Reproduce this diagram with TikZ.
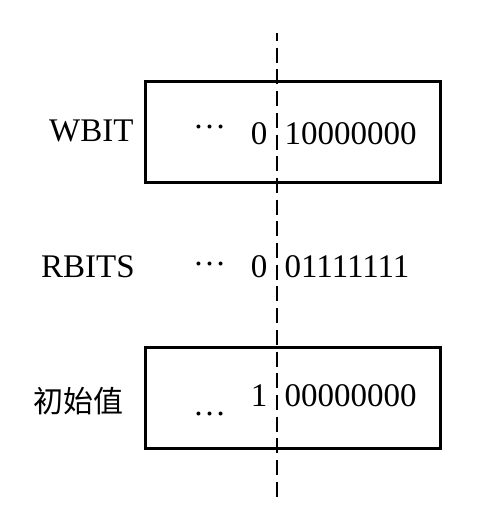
\documentclass[tikz,border=0pt]{standalone}
\usepackage{fontspec}
\setmainfont{Liberation Serif}
\newfontfamily\cjk{Noto Sans CJK SC}
\begin{document}
\begin{tikzpicture}[x=1pt,y=-1pt,
  lbl/.style={inner sep=0pt,font=\fontsize{33}{39}\selectfont},
  cjklbl/.style={inner sep=0pt,font=\cjk\fontsize{30}{36}\selectfont},
  regbox/.style={draw=black,line width=3.2pt},
  divider/.style={draw=black,line width=2pt,dash pattern=on 15pt off 6.7pt,dash phase=7pt}]
\useasboundingbox[fill=white] (0,0) rectangle (478,515);
% boxes
\node[regbox,minimum width=295pt,minimum height=101pt,inner sep=0pt,anchor=north west] (wbox) at (144,80) {};
\node[regbox,minimum width=295pt,minimum height=101pt,inner sep=0pt,anchor=north west] (ibox) at (144,346) {};
% dashed divider
\coordinate (dtop) at (276.5,33);
\coordinate (dbot) at (276.5,502);
\draw[divider] (dtop) -- (dbot);
% WBIT row
\node[lbl,anchor=base west] (wlab) at (49,141) {WBIT};
\node[lbl,anchor=base] (wdots) at (209.5,128) {…};
\node[lbl,anchor=base east] (whi) at (267.5,144) {0};
\node[lbl,anchor=base west] (wlo) at (284.5,144) {10000000};
% RBITS row
\node[lbl,anchor=base west] (rlab) at (41,277) {RBITS};
\node[lbl,anchor=base] (rdots) at (209.5,265) {…};
\node[lbl,anchor=base east] (rhi) at (267.5,277) {0};
\node[lbl,anchor=base west] (rlo) at (284.5,277) {01111111};
% initial value row
\node[cjklbl,anchor=base] (ilab) at (78.5,412) {初始值};
\node[lbl,anchor=base] (idots) at (209.5,415) {…};
\node[lbl,anchor=base east] (ihi) at (267.5,406) {1};
\node[lbl,anchor=base west] (ilo) at (284.5,406) {00000000};
\end{tikzpicture}
\end{document}
